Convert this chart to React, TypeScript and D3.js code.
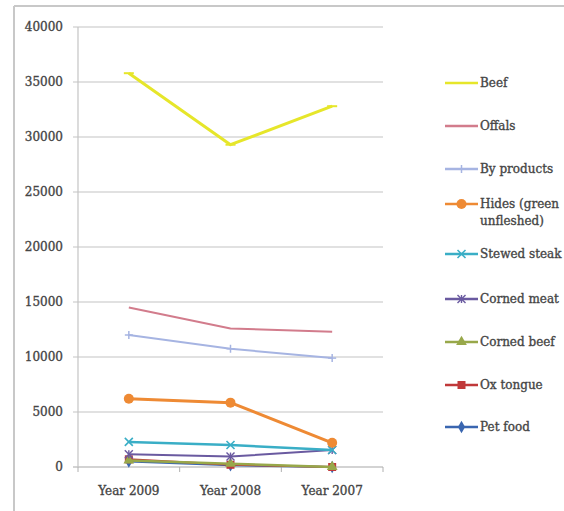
import React from "react";
import * as d3 from "d3";

const years = ["Year 2009", "Year 2008", "Year 2007"];
const yTicks = [0, 5000, 10000, 15000, 20000, 25000, 30000, 35000, 40000];

const beef = [35800, 29300, 32800];
const offals = [14500, 12600, 12300];
const byProducts = [12000, 10750, 9900];
const hides = [6200, 5850, 2200];
const stewedSteak = [2280, 2000, 1550];
const cornedMeat = [1150, 950, 1550];
const cornedBeef = [600, 300, 0];
const oxTongue = [700, 200, 0];
const petFood = [500, 150, 0];

type Marker = "dash" | "none" | "plus" | "circle" | "x" | "star" | "triangle" | "square" | "diamond";

const series: { name: string[]; values: number[]; color: string; marker: Marker; width: number }[] = [
  { name: ["Beef"], values: beef, color: "#e6e62a", marker: "dash", width: 3 },
  { name: ["Offals"], values: offals, color: "#d27c8c", marker: "none", width: 2 },
  { name: ["By products"], values: byProducts, color: "#a6b4e2", marker: "plus", width: 2 },
  { name: ["Hides (green", "unfleshed)"], values: hides, color: "#ee8a34", marker: "circle", width: 3 },
  { name: ["Stewed steak"], values: stewedSteak, color: "#3aaec6", marker: "x", width: 2.5 },
  { name: ["Corned meat"], values: cornedMeat, color: "#6a5aa0", marker: "star", width: 2 },
  { name: ["Corned beef"], values: cornedBeef, color: "#98a84a", marker: "triangle", width: 2.5 },
  { name: ["Ox tongue"], values: oxTongue, color: "#c0393a", marker: "square", width: 2 },
  { name: ["Pet food"], values: petFood, color: "#3a66b0", marker: "diamond", width: 2 },
];

const W = 564;
const H = 511;
const plot = { left: 78, right: 383, top: 27, bottom: 467 };
const font = "'DejaVu Serif', 'Liberation Serif', serif";
const textColor = "#454545";

function MarkerShape({ type, x, y, color }: { type: Marker; x: number; y: number; color: string }) {
  const s = 4;
  switch (type) {
    case "dash":
      return <line x1={x - 5} x2={x + 5} y1={y} y2={y} stroke={color} strokeWidth={2} />;
    case "plus":
      return (
        <g stroke={color} strokeWidth={1.5}>
          <line x1={x - s} x2={x + s} y1={y} y2={y} />
          <line x1={x} x2={x} y1={y - s} y2={y + s} />
        </g>
      );
    case "circle":
      return <circle cx={x} cy={y} r={5} fill={color} />;
    case "x":
      return (
        <g stroke={color} strokeWidth={1.6}>
          <line x1={x - s} x2={x + s} y1={y - s} y2={y + s} />
          <line x1={x - s} x2={x + s} y1={y + s} y2={y - s} />
        </g>
      );
    case "star":
      return (
        <g stroke={color} strokeWidth={1.4}>
          <line x1={x - s} x2={x + s} y1={y - s} y2={y + s} />
          <line x1={x - s} x2={x + s} y1={y + s} y2={y - s} />
          <line x1={x} x2={x} y1={y - s} y2={y + s} />
        </g>
      );
    case "triangle": {
      const p = d3.symbol(d3.symbolTriangle, 50)();
      return <path d={p ?? ""} transform={`translate(${x},${y})`} fill={color} />;
    }
    case "square":
      return <rect x={x - 4} y={y - 4} width={8} height={8} fill={color} />;
    case "diamond": {
      const p = d3.symbol(d3.symbolDiamond, 45)();
      return <path d={p ?? ""} transform={`translate(${x},${y})`} fill={color} />;
    }
    default:
      return null;
  }
}

export default function App() {
  const x = d3.scaleBand<string>().domain(years).range([plot.left, plot.right]);
  const y = d3.scaleLinear().domain([0, 40000]).range([plot.bottom, plot.top]);
  const cx = (yr: string) => (x(yr) ?? 0) + x.bandwidth() / 2;
  const line = d3
    .line<number>()
    .x((_, i) => cx(years[i]))
    .y((v) => y(v));

  const legendX = 445;
  const legendY = [83, 126, 169, 204, 254, 299, 342, 385, 427];

  const order = [...series].reverse();
  const textStyle = { fill: textColor, stroke: textColor, strokeWidth: 0.35 };

  return (
    <svg
      width={W}
      height={H}
      style={{ position: "absolute", left: 0, top: 0, background: "#fff" }}
      fontFamily={font}
    >
      {/* chart frame */}
      <line x1={14} x2={W} y1={6} y2={6} stroke="#c8c8c8" strokeWidth={2} />
      <line x1={14} x2={14} y1={6} y2={H} stroke="#c8c8c8" strokeWidth={2} />

      {/* gridlines and y labels */}
      {yTicks.map((t) => (
        <g key={t}>
          <line
            x1={plot.left - 5}
            x2={plot.right}
            y1={y(t)}
            y2={y(t)}
            stroke={t === 0 ? "#a8a8a8" : "#c4c4c4"}
            strokeWidth={1.2}
          />
          <text x={63} y={y(t)} dy="0.35em" textAnchor="end" fontSize={12} {...textStyle}>
            {t}
          </text>
        </g>
      ))}
      <line x1={plot.left} x2={plot.left} y1={plot.top} y2={plot.bottom} stroke="#c4c4c4" strokeWidth={1.2} />

      {/* category ticks and labels */}
      {[...years.map((yr) => x(yr) ?? 0), plot.right].map((tx, i) => (
        <line key={i} x1={tx} x2={tx} y1={plot.bottom} y2={plot.bottom + 5} stroke="#b0b0b0" strokeWidth={1} />
      ))}
      {years.map((yr) => (
        <text key={yr} x={cx(yr)} y={491} dy="0.35em" textAnchor="middle" fontSize={12} {...textStyle}>
          {yr}
        </text>
      ))}

      {/* series lines */}
      {order.map((s) => (
        <g key={s.name.join(" ")}>
          <path d={line(s.values) ?? ""} fill="none" stroke={s.color} strokeWidth={s.width} strokeLinejoin="round" />
          {s.values.map((v, i) => (
            <MarkerShape key={i} type={s.marker} x={cx(years[i])} y={y(v)} color={s.color} />
          ))}
        </g>
      ))}

      {/* legend */}
      {series.map((s, i) => (
        <g key={s.name.join(" ")}>
          <line x1={legendX} x2={legendX + 33} y1={legendY[i]} y2={legendY[i]} stroke={s.color} strokeWidth={2.5} />
          <MarkerShape type={s.marker} x={legendX + 16.5} y={legendY[i]} color={s.color} />
          {s.name.map((n, j) => (
            <text key={j} x={legendX + 35} y={legendY[i] + j * 17} dy="0.35em" fontSize={12} {...textStyle}>
              {n}
            </text>
          ))}
        </g>
      ))}
    </svg>
  );
}
